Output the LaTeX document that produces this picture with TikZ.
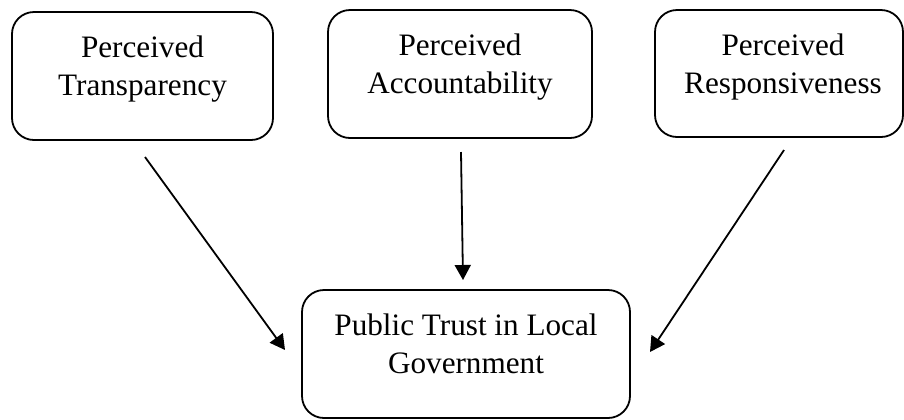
\documentclass[tikz,border=0pt]{standalone}
\usepackage{fontspec}
\setmainfont{Liberation Serif}
\usetikzlibrary{positioning,arrows.meta}

\tikzset{mbox/.style = {shape = rectangle,
                        rounded corners = 11pt,
                        line width = 0.9pt,
                        draw}}
\tikzset{mtext/.style = {align = center,
                         inner sep = 0pt,
                         font = \fontsize{15.6}{18.75}\selectfont}}

\begin{document}
\begin{tikzpicture}[x=0.5pt, y=-0.5pt,
                    marrow/.style = {line width = 0.9pt,
                                     -{Triangle[length=7.5pt,width=8pt]}}]
		\useasboundingbox (0,0) rectangle (904,419);
		% the three perceived factors
		\node[mbox, minimum width=130.5pt, minimum height=64pt] (1) at (142.5,76) {};
		\node[mbox, minimum width=132pt, minimum height=64pt] (2) at (460,74) {};
		\node[mbox, minimum width=124pt, minimum height=63.5pt] (3) at (779,73.5) {};
		% outcome
		\node[mbox, minimum width=164pt, minimum height=64pt] (4) at (466,354) {};
		\node[mtext, below=12.4pt of 1.north] (1t) {Perceived\\Transparency};
		\node[mtext, below=12.4pt of 2.north] (2t) {Perceived\\Accountability};
		\node[mtext, below=12.4pt of 3.north, xshift=2pt] (3t) {Perceived\\Responsiveness};
		\node[mtext, below=12.4pt of 4.north] (4t) {Public Trust in Local\\Government};
		\coordinate (s1) at (145,157);
		\coordinate (e1) at (285,350);
		\coordinate (s2) at (461,152);
		\coordinate (e2) at (463,280);
		\coordinate (s3) at (784,150);
		\coordinate (e3) at (650,352);
		\path (s1) edge[marrow] (e1);
		\path (s2) edge[marrow] (e2);
		\path (s3) edge[marrow] (e3);
	\end{tikzpicture}
\end{document}
